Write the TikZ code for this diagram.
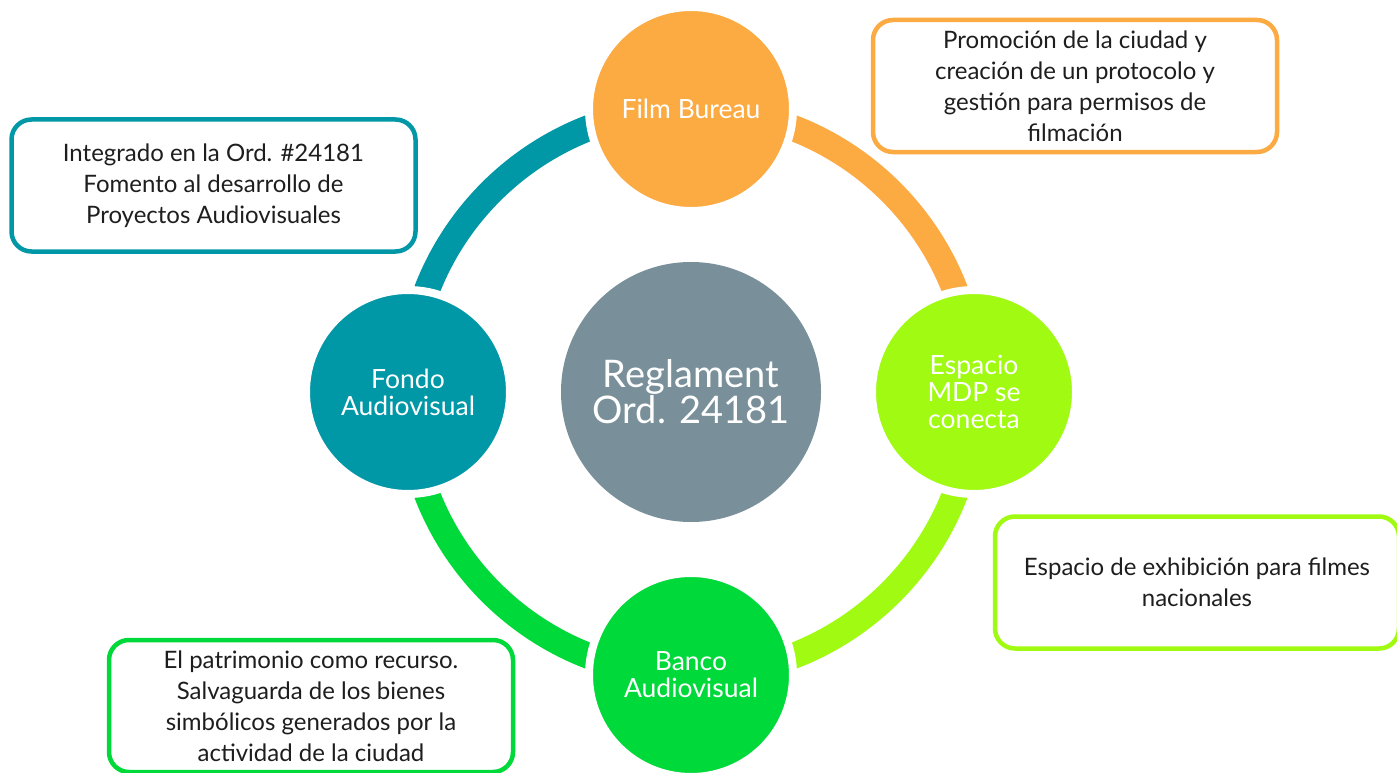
\documentclass[tikz,border=0pt]{standalone}
\usepackage{fontspec}
\setmainfont{Lato}
\definecolor{cOrange}{RGB}{252,170,66}
\definecolor{cLime}{RGB}{160,250,18}
\definecolor{cGreen}{RGB}{0,217,58}
\definecolor{cTeal}{RGB}{0,151,167}
\definecolor{cGray}{RGB}{121,143,153}
\definecolor{cText}{RGB}{30,30,30}
\tikzset{
  ringarc/.style={line width=26pt},
  hub/.style={circle, minimum size=204pt, inner sep=0pt, draw=white, line width=8pt,
    text=white, align=center, font=\fontsize{26.5}{27}\selectfont},
  infobox/.style={rounded corners=20pt, line width=4.5pt, fill=white, text=cText,
    align=center, inner sep=0pt, minimum width=404pt, minimum height=132pt,
    font=\fontsize{24}{31}\selectfont}
}
\begin{document}
\begin{tikzpicture}[x=1pt,y=-1pt]
\path[use as bounding box, clip] (0,0) rectangle (1397,773);
\fill[white] (0,0) rectangle (1397,773);
\coordinate (ctr) at (691,392);
\coordinate (pT) at (691,109);
\coordinate (pR) at (974,392);
\coordinate (pB) at (691,675);
\coordinate (pL) at (408,392);
% ring arcs (angles in page orientation)
\draw[ringarc, cOrange] (pT) arc[start angle=90, end angle=0, radius=283pt];
\draw[ringarc, cLime] (pR) arc[start angle=0, end angle=-90, radius=283pt];
\draw[ringarc, cGreen] (pB) arc[start angle=-90, end angle=-180, radius=283pt];
\draw[ringarc, cTeal] (pL) arc[start angle=180, end angle=90, radius=283pt];
% centre
\node[circle, minimum size=260pt, inner sep=0pt, fill=cGray, text=white, align=center,
  font=\fontsize{38}{36}\selectfont] (reg) at (ctr) {Reglament\\Ord. 24181};
% hubs
\node[hub, fill=cOrange] (fb) at (pT) {Film Bureau};
\node[hub, fill=cLime] (mdp) at (pR) {Espacio\\MDP se\\conecta};
\node[hub, fill=cGreen] (banco) at (pB) {Banco\\Audiovisual};
\node[hub, fill=cTeal] (fondo) at (pL) {Fondo\\Audiovisual};
% info boxes
\node[infobox, draw=cOrange] (bfb) at (1075,86) {Promoción de la ciudad y\\creación de un protocolo y\\gestión para permisos de\\filmación};
\node[infobox, draw=cTeal] (bfondo) at (213.5,185.5) {Integrado en la Ord. \#24181\\Fomento al desarrollo de\\Proyectos Audiovisuales};
\node[infobox, draw=cLime] (bmdp) at (1197,582.5) {Espacio de exhibición para filmes\\nacionales};
\node[infobox, draw=cGreen] (bbanco) at (311,706) {El patrimonio como recurso.\\Salvaguarda de los bienes\\simbólicos generados por la\\actividad de la ciudad};
\end{tikzpicture}
\end{document}
